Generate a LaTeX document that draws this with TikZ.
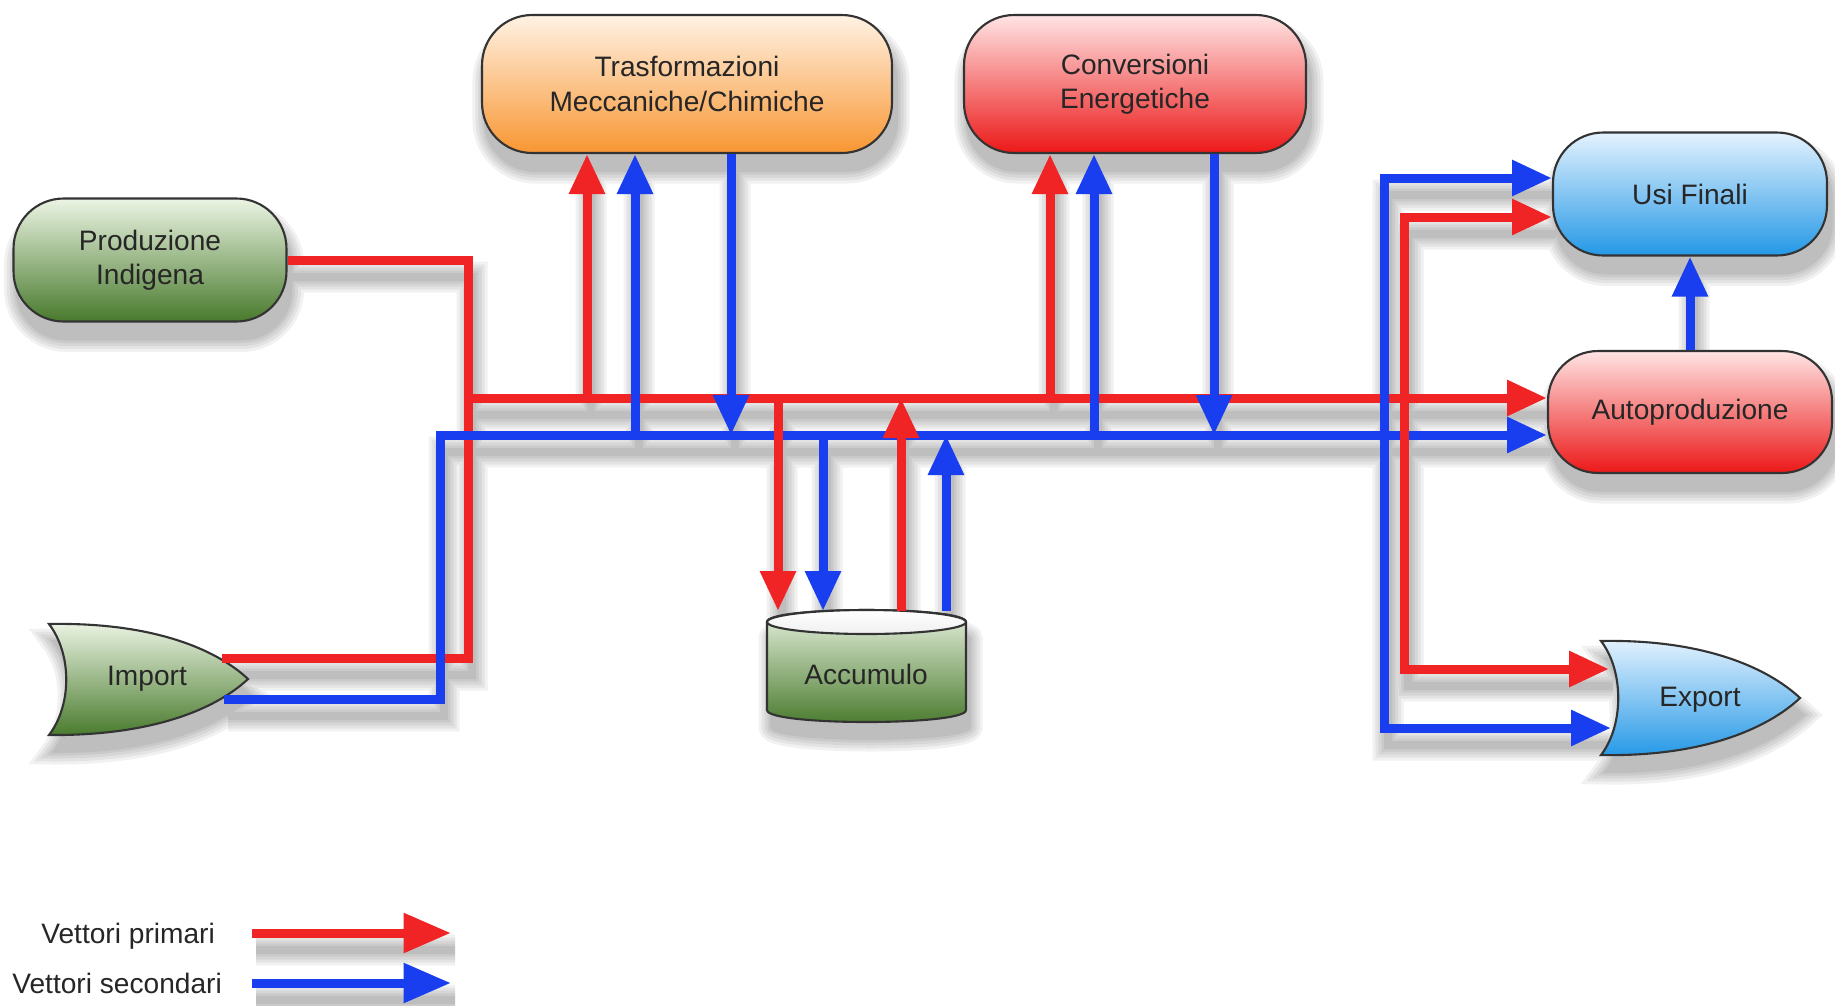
\documentclass[tikz,border=0pt]{standalone}
\usepackage{fontspec}
\setmainfont{Liberation Sans}
\usetikzlibrary{arrows.meta,calc}
\pgfdeclarelayer{shadow}
\pgfsetlayers{shadow,main}
\definecolor{lred}{RGB}{240,36,36}
\definecolor{lblue}{RGB}{24,62,240}
\definecolor{gtop}{RGB}{236,244,228}
\definecolor{gbot}{RGB}{72,122,44}
\definecolor{otop}{RGB}{255,242,228}
\definecolor{obot}{RGB}{248,150,50}
\definecolor{rtop}{RGB}{255,228,228}
\definecolor{rbot}{RGB}{236,24,24}
\definecolor{btop}{RGB}{228,242,254}
\definecolor{bbot}{RGB}{36,152,230}
\newcommand\impshape[1]{\path[#1] (49,624) .. controls (150,622) and (215,648) .. (248,679) .. controls (215,710) and (150,736) .. (49,735) .. controls (72,705) and (72,654) .. cycle;}
\newcommand\expshape[1]{\path[#1] (1601,641) .. controls (1702,639) and (1767,667) .. (1800,698) .. controls (1767,729) and (1702,757) .. (1601,755) .. controls (1624,725) and (1624,671) .. cycle;}
\newcommand\cylshape[1]{\path[#1] (767,622) -- (767,710) .. controls (767,726) and (966,726) .. (966,710) -- (966,622) .. controls (966,606) and (767,606) .. cycle;}
\newcommand\boxshadows{%
  \path[shp,rounded corners=1cm] (prod.south west) rectangle (prod.north east);
  \path[shp,rounded corners=1cm] (trasf.south west) rectangle (trasf.north east);
  \path[shp,rounded corners=1cm] (conv.south west) rectangle (conv.north east);
  \path[shp,rounded corners=1cm] (usi.south west) rectangle (usi.north east);
  \path[shp,rounded corners=1cm] (auto.south west) rectangle (auto.north east);
  \impshape{shp}\expshape{shp}\cylshape{shp}}
\newcommand\connectors{%
  % production / import
  \draw[redln] (prod.east) -| (rJ) -- (impR);
  \draw[blueln,atip] (impB) -| (bb0) -- (auto.west |- bb0);
  \draw[redln,atip] (rb0) -- (auto.west |- rb0);
  % trasformazioni
  \draw[redln,atip] (r1) -- (r1 |- trasf.south);
  \draw[blueln,atip] (b1) -- (b1 |- trasf.south);
  \draw[blueln,atip] (b2 |- trasf.south) -- (b2);
  % conversioni
  \draw[redln,atip] (r3) -- (r3 |- conv.south);
  \draw[blueln,atip] (b3) -- (b3 |- conv.south);
  \draw[blueln,atip] (b4 |- conv.south) -- (b4);
  % accumulo
  \draw[redln,atip] (r5) -- (r5 |- acctop);
  \draw[blueln,atip] (b6) -- (b6 |- acctop);
  \draw[redln,atip] (r7 |- acctop) -- (r7);
  \draw[blueln,atip] (b8 |- acctop) -- (b8);
  % right side
  \draw[blueln,atip] (bvB) -- (bvT) -- (usi.west |- bvT);
  \draw[blueln,atip] (bvT) -- (bvB) -- (expB);
  \draw[redln,atip] (rvB) -- (rvT) -- (usi.west |- rvT);
  \draw[redln,atip] (rvT) -- (rvB) -- (expR);
  \draw[blueln,atip] (auto.north) -- (usi.south);
  % legend
  \draw[redln,lgtip] (lg1a) -- (lg1b);
  \draw[blueln,lgtip] (lg2a) -- (lg2b);}
\newcommand\shadowpass[2]{%
  \begin{scope}[transform canvas={xshift=0.08cm,yshift=-0.34cm}]
  \begin{scope}[transparency group,opacity=0.055]
    \tikzset{shp/.style={fill=black,draw=black,line width=#1},
      redln/.style={draw=black,line width=#2},
      blueln/.style={draw=black,line width=#2},
      atip/.style={},lgtip/.style={}}
    \boxshadows
    \connectors
  \end{scope}
  \end{scope}}
\begin{document}
\begin{tikzpicture}[x=0.02cm,y=-0.02cm,
  box/.style={draw=black!80,line width=1.2pt,rounded corners=1cm,inner sep=0pt,
    align=center,font=\fontsize{16pt}{19.5pt}\selectfont,text=black!85},
  lbl/.style={font=\fontsize{16pt}{19.5pt}\selectfont,text=black!85},
  gfill/.style={top color=gtop,bottom color=gbot},
  ofill/.style={top color=otop,bottom color=obot},
  rfill/.style={top color=rtop,bottom color=rbot},
  bfill/.style={top color=btop,bottom color=bbot},
  outl/.style={draw=black!80,line width=1.2pt},
  redln/.style={draw=lred,line width=0.18cm},
  blueln/.style={draw=lblue,line width=0.18cm},
  atip/.style={-{Triangle[length=0.8cm,width=0.68cm]}},
  lgtip/.style={-{Triangle[length=0.95cm,width=0.76cm]}}]
\begin{pgfonlayer}{shadow}
  \fill[white] (0,0) rectangle (1835,1005);
\end{pgfonlayer}
\useasboundingbox (0,0) rectangle (1835,1005);
% nodes
\node[box,gfill,minimum width=5.46cm,minimum height=2.46cm] (prod) at (150,260) {Produzione\\Indigena};
\node[box,ofill,minimum width=8.2cm,minimum height=2.76cm] (trasf) at (687,84) {Trasformazioni\\Meccaniche/Chimiche};
\node[box,rfill,minimum width=6.84cm,minimum height=2.76cm] (conv) at (1135,84) {Conversioni\\Energetiche};
\node[box,bfill,minimum width=5.48cm,minimum height=2.46cm] (usi) at (1690,194) {Usi Finali};
\node[box,rfill,minimum width=5.68cm,minimum height=2.44cm] (auto) at (1690,412) {Autoproduzione};
\impshape{outl,gfill}
\node[lbl] (imp) at (147,679) {Import};
\expshape{outl,bfill}
\node[lbl] (exp) at (1700,700) {Export};
\cylshape{outl,gfill}
\path[outl,top color=white,bottom color=gray!12] (866.5,622) ellipse [x radius=1.99cm,y radius=0.24cm];
\node[lbl] (acc) at (866,674) {Accumulo};
\node[lbl,anchor=east] (lg1) at (221,936) {Vettori primari};
\node[lbl,anchor=east] (lg2) at (228,983) {Vettori secondari};
% coordinates
\coordinate (impR) at (222,658);
\coordinate (impB) at (224,699);
\coordinate (rJ) at (468,658);
\coordinate (rb0) at (468,398);
\coordinate (bb0) at (440,435);
\coordinate (r1) at (587,398);
\coordinate (b1) at (635,435);
\coordinate (b2) at (731,435);
\coordinate (r3) at (1050,398);
\coordinate (b3) at (1094,435);
\coordinate (b4) at (1214,435);
\coordinate (acctop) at (866,611);
\coordinate (r5) at (778,398);
\coordinate (b6) at (823,435);
\coordinate (r7) at (901,398);
\coordinate (b8) at (946,435);
\coordinate (bvT) at (1384,178);
\coordinate (bvB) at (1384,728);
\coordinate (rvT) at (1404,217);
\coordinate (rvB) at (1404,669);
\coordinate (expR) at (1609,669);
\coordinate (expB) at (1611,728);
\coordinate (lg1a) at (252,933);
\coordinate (lg1b) at (451,933);
\coordinate (lg2a) at (252,983);
\coordinate (lg2b) at (451,983);
% connectors
\connectors
% shadows
\begin{pgfonlayer}{shadow}
  \shadowpass{0.5cm}{0.62cm}
  \shadowpass{0.38cm}{0.5cm}
  \shadowpass{0.26cm}{0.38cm}
  \shadowpass{0.14cm}{0.26cm}
  \shadowpass{0.04cm}{0.16cm}
\end{pgfonlayer}
\end{tikzpicture}
\end{document}
